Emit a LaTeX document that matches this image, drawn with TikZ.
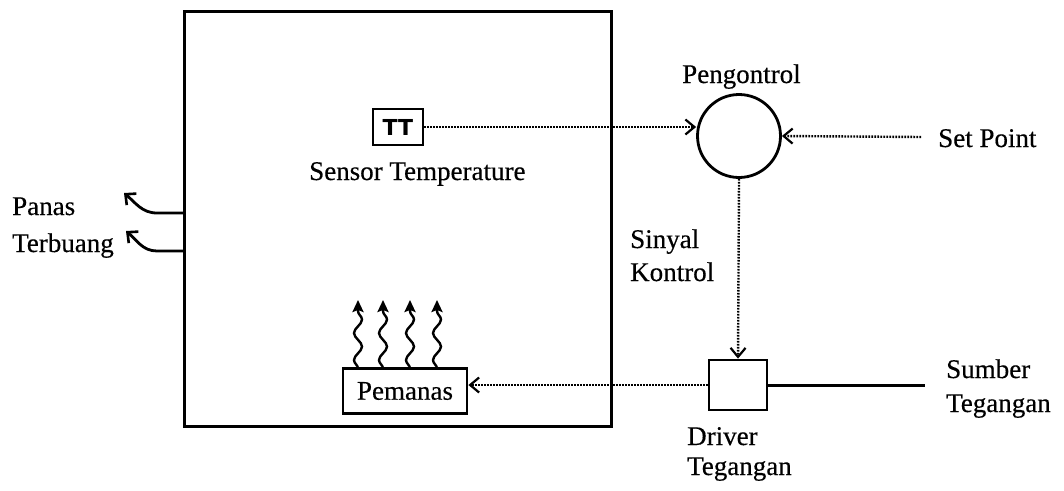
\documentclass[tikz,border=0pt]{standalone}
\usepackage{fontspec}
\setmainfont{Liberation Serif}
\newfontfamily\txtfont[FakeBold=0.4]{Liberation Serif}
\newfontfamily\ttlabel{DejaVu Sans}
\usetikzlibrary{arrows.meta,decorations.pathmorphing,calc}
\tikzset{
  lbl/.style={inner sep=0pt, anchor=base west, font=\txtfont\fontsize{27}{30}\selectfont},
  box/.style={draw, line width=2.8pt, inner sep=0pt},
  dotarrow/.style={line width=2.4pt, dash pattern=on 1.6pt off 1.4pt, -{Straight Barb[length=9pt,width=15pt,line width=2.2pt]}},
  solidline/.style={line width=3pt},
  lossarrow/.style={line width=2.8pt, -{Straight Barb[length=8pt,width=15pt,line width=2.6pt]}},
  wavy/.style={line width=2.4pt, -{Stealth[length=12pt,width=11pt,inset=2pt]}, decorate,
    decoration={snake, amplitude=4pt, segment length=27pt, post length=10pt}}
}
\begin{document}
\begin{tikzpicture}[x=1pt,y=-1pt]
\useasboundingbox (0,0) rectangle (1064,490);
% room
\node[box, line width=3.2pt, minimum width=427pt, minimum height=415pt, anchor=north west] (room) at (183,10) {};
% sensor
\node[box, minimum width=50pt, minimum height=36pt, font=\fontsize{22}{24}\ttlabel\bfseries] (tt) at (398,127) {TT};
\node[lbl] (stxt) at (309,180) {Sensor Temperature};
% controller
\node[draw, circle, line width=2.8pt, minimum size=83pt, inner sep=0pt] (ctrl) at (739,136) {};
\node[lbl] (ptxt) at (682,83) {Pengontrol};
\node[lbl] (sp) at (938,147) {Set Point};
\coordinate (spin) at (921,137);
% driver
\node[box, minimum width=58pt, minimum height=50pt] (drv) at (738,385) {};
\node[lbl] (dtxt1) at (687,445) {Driver};
\node[lbl] (dtxt2) at (687,475) {Tegangan};
% heater
\node[box, minimum width=124pt, minimum height=45pt, font=\txtfont\fontsize{27}{30}\selectfont] (pem) at (405,391) {Pemanas};
% source
\coordinate (src) at (925,0);
\node[lbl] (stg1) at (946,378) {Sumber};
\node[lbl] (stg2) at (946,412) {Tegangan};
% labels
\node[lbl] (sk1) at (630,248) {Sinyal};
\node[lbl] (sk2) at (630,281) {Kontrol};
\node[lbl] (pt1) at (12,215) {Panas};
\node[lbl] (pt2) at (12,252) {Terbuang};
% connectors
\draw[dotarrow] (tt.east) -- (tt.east -| ctrl.west);
\draw[dotarrow] (spin) -- (ctrl.east);
\draw[dotarrow] (ctrl.south) -- (drv.north);
\draw[dotarrow] (drv.west) -- (drv.west -| pem.east);
\draw[solidline] (drv.east) -- (drv.east -| src);
% heat loss
\coordinate (h1) at (183,213);
\coordinate (h2) at (183,251);
\coordinate (e1) at (124,193);
\coordinate (e2) at (126,231);
\draw[lossarrow] (h1) -- ++(-26,0) to[out=180,in=-40] (e1);
\draw[lossarrow] (h2) -- ++(-26,0) to[out=180,in=-40] (e2);
% heat waves
\foreach \x in {358,383,410,437} {
  \draw[wavy] (\x,368.5) -- (\x,300);
}
\end{tikzpicture}
\end{document}
